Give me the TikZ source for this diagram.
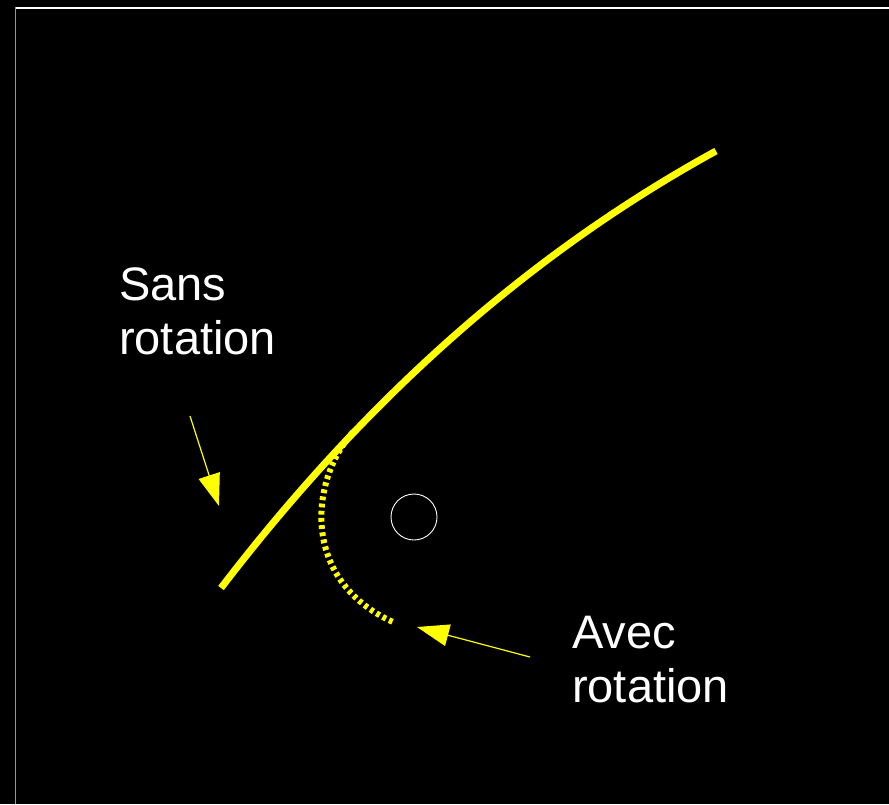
\documentclass[tikz,border=0pt]{standalone}
\usepackage{fontspec}
\setmainfont{Liberation Sans}
\usetikzlibrary{arrows.meta, positioning}
\definecolor{trajyellow}{RGB}{255, 255, 0}
\definecolor{framegray}{RGB}{150, 150, 150}

\begin{document}
\begin{tikzpicture}[
  x=1pt, y=-1pt,
  label/.style={text=white, inner sep=0pt, align=left, anchor=base west,
                font=\fontsize{47}{54}\selectfont},
  traj/.style={trajyellow, line width=7pt},
  spin/.style={trajyellow, line width=6pt, dash pattern=on 3.8pt off 3.4pt},
  arr/.style={-{Triangle[length=32pt, width=22pt]}, trajyellow, line width=1.2pt}
]
  \fill[black] (0,0) rectangle (889,804);
  \useasboundingbox (0,0) rectangle (889,804);
  \draw[white, line width=2pt] (15,7.5) -- (889,7.5);
  \draw[framegray, line width=1.5pt] (15.5,7) -- (15.5,804);

  % trajectories
  \coordinate (start) at (221,588);
  \coordinate (finish) at (716,151);
  \coordinate (split) at (353,432);
  \coordinate (stop) at (393,622);
  \draw[traj] (start) .. controls (368,396) and (532,252) .. (finish);
  \draw[spin] (split) .. controls (310,480) and (300,580) .. (stop);

  % ball
  \node[draw=white, circle, line width=0.9pt, minimum size=46pt, inner sep=0pt] (ball) at (414,517) {};

  % labels
  \node[label] (sans) at (119,354) {Sans\\rotation};
  \node[label] (avec) at (572,702) {Avec\\rotation};

  \coordinate (sansfrom) at (190,416);
  \coordinate (sanstip) at (219,506);
  \coordinate (avecfrom) at (530,657);
  \coordinate (avectip) at (417,627);
  \draw[arr] (sansfrom) -- (sanstip);
  \draw[arr] (avecfrom) -- (avectip);
\end{tikzpicture}
\end{document}
